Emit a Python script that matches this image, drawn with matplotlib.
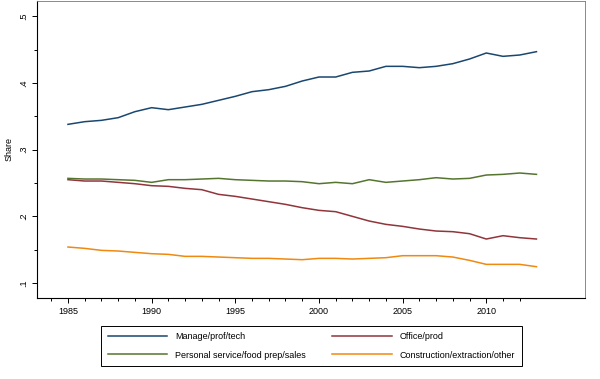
import numpy as np
import matplotlib.pyplot as plt

plt.rcParams['font.family'] = ['Liberation Sans', 'DejaVu Sans']

years = list(range(1985, 2014))

manage = [0.338, 0.342, 0.344, 0.348, 0.357, 0.363, 0.360, 0.364, 0.368, 0.374,
          0.380, 0.387, 0.390, 0.395, 0.403, 0.409, 0.409, 0.416, 0.418, 0.425,
          0.425, 0.423, 0.425, 0.429, 0.436, 0.445, 0.440, 0.442, 0.447]
office = [0.255, 0.253, 0.253, 0.251, 0.249, 0.246, 0.245, 0.242, 0.240, 0.233,
          0.230, 0.226, 0.222, 0.218, 0.213, 0.209, 0.207, 0.200, 0.193, 0.188,
          0.185, 0.181, 0.178, 0.177, 0.174, 0.166, 0.171, 0.168, 0.166]
personal = [0.257, 0.256, 0.256, 0.255, 0.254, 0.251, 0.255, 0.255, 0.256, 0.257,
            0.255, 0.254, 0.253, 0.253, 0.252, 0.249, 0.251, 0.249, 0.255, 0.251,
            0.253, 0.255, 0.258, 0.256, 0.257, 0.262, 0.263, 0.265, 0.263]
construct = [0.154, 0.152, 0.149, 0.148, 0.146, 0.144, 0.143, 0.140, 0.140, 0.139,
             0.138, 0.137, 0.137, 0.136, 0.135, 0.137, 0.137, 0.136, 0.137, 0.138,
             0.141, 0.141, 0.141, 0.139, 0.134, 0.128, 0.128, 0.128, 0.1245]

labels = ['Manage/prof/tech', 'Office/prod',
          'Personal service/food prep/sales', 'Construction/extraction/other']
colors = ['#1a476f', '#90353b', '#55752f', '#f0890f']

xmajor = [1985, 1990, 1995, 2000, 2005, 2010]
xminor = [y for y in range(1984, 2013) if y not in xmajor]
ymajor = [0.1, 0.2, 0.3, 0.4, 0.5]
ymajor_labels = ['.1', '.2', '.3', '.4', '.5']
yminor = [0.15, 0.25, 0.35, 0.45]

fig = plt.figure(figsize=(6, 3.79), dpi=100)
ax = fig.add_axes([37 / 600, (379 - 297.7) / 379, (585 - 37) / 600, (297.7 - 1) / 379])

handles = []
for vals, lab, col in zip([manage, office, personal, construct], labels, colors):
    h, = ax.plot(years, vals, color=col, lw=1.1, label=lab)
    handles.append(h)

ax.set_ylim(0.078, 0.523)
ax.set_xlim(1983.15, 2015.9)
ax.set_xticks(xmajor)
ax.set_xticks(xminor, minor=True)
ax.set_yticks(ymajor)
ax.set_yticks(yminor, minor=True)
ax.set_yticklabels(ymajor_labels, rotation=90, va='center')
ax.tick_params(which='major', length=3.5, width=0.7, labelsize=6.5, pad=3)
ax.tick_params(which='minor', length=2, width=0.7)
ax.set_ylabel('Share', fontsize=6.5, labelpad=4)

for s in ['left', 'bottom']:
    ax.spines[s].set_linewidth(0.8)
for s in ['top', 'right']:
    ax.spines[s].set_color('#777777')
    ax.spines[s].set_linewidth(0.6)

order = [0, 2, 1, 3]
leg = fig.legend([handles[i] for i in order], [labels[i] for i in order], ncol=2,
                 loc='center', bbox_to_anchor=(311.5 / 600, 1 - 346 / 379),
                 fontsize=6.5, handlelength=6.6, handletextpad=0.9, columnspacing=2.9,
                 borderpad=0.7, labelspacing=1.0, frameon=True, fancybox=False,
                 edgecolor='black', framealpha=1)
leg.get_frame().set_linewidth(0.7)

fig.savefig('out.png', dpi=100)
